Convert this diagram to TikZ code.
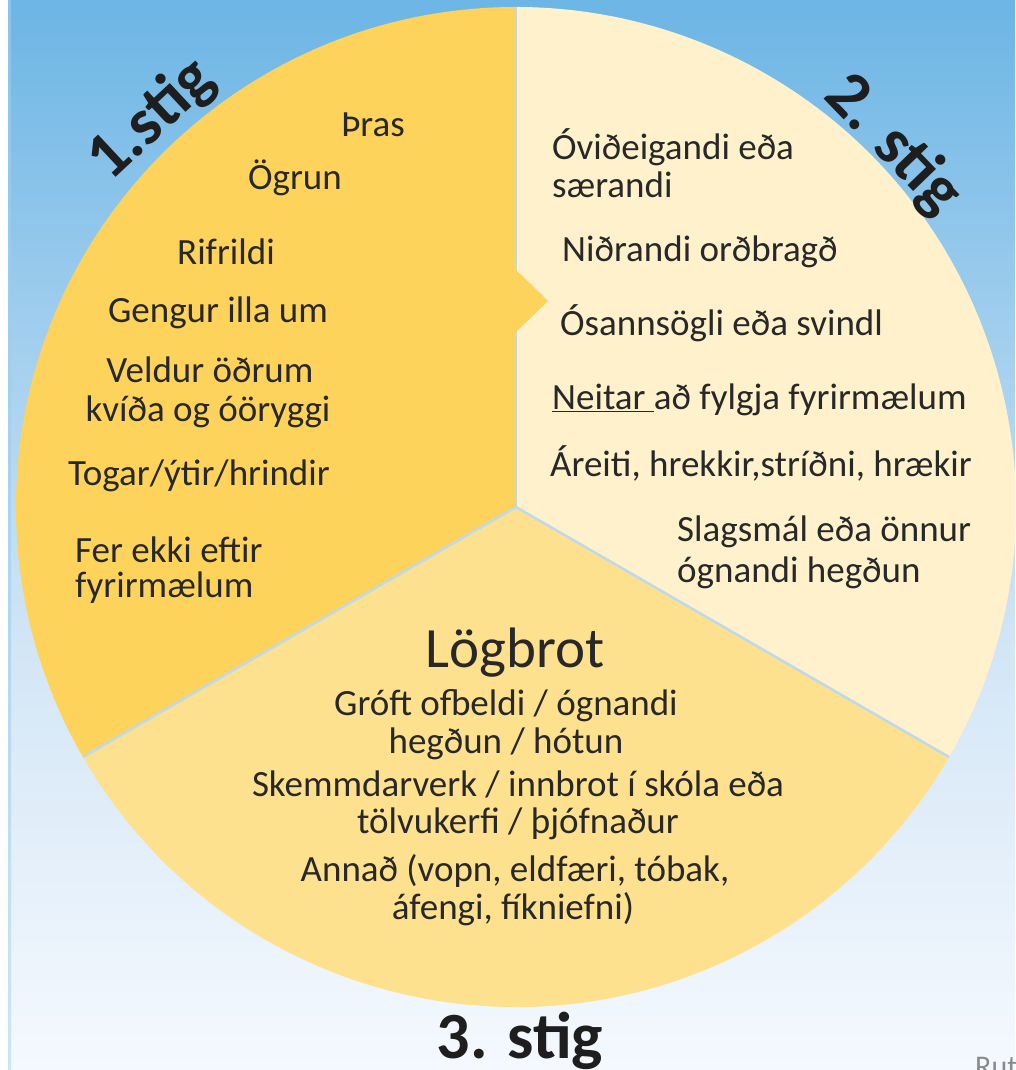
\documentclass[tikz,border=0pt]{standalone}
\usepackage{fontspec}
\setmainfont{Carlito}
\definecolor{bgtop}{HTML}{6CB5E5}
\definecolor{bgmid}{HTML}{D3E6F6}
\definecolor{bgbot}{HTML}{F5F9FE}
\definecolor{sectA}{HTML}{FDD35C}
\definecolor{sectB}{HTML}{FEF1CC}
\definecolor{sectC}{HTML}{FEE18E}
\definecolor{divc}{HTML}{BFD9EC}
\definecolor{txtc}{HTML}{282828}
\definecolor{stagec}{HTML}{1E1E1E}
\definecolor{signc}{HTML}{8A8A8A}
\tikzset{
  txt/.style={font=\fontsize{37}{40}\selectfont, text=txtc, inner sep=0pt},
  bigtxt/.style={font=\fontsize{57}{60}\selectfont, text=txtc, inner sep=0pt},
  stagelbl/.style={font=\fontsize{66}{70}\selectfont\bfseries, text=stagec, inner sep=0pt},
  divider/.style={draw=divc, line width=2.5pt},
}
\begin{document}
\begin{tikzpicture}[x=1pt,y=1pt]
\useasboundingbox (0,0) rectangle (1015,1070);
\clip (0,0) rectangle (1015,1070);
% background
\fill[white] (0,0) rectangle (1015,1070);
\shade[top color=bgtop, bottom color=bgmid] (8,420) rectangle (1015,1070);
\shade[top color=bgmid, bottom color=bgbot] (8,0) rectangle (1015,420);
\shade[top color=bgtop!80!white, bottom color=bgtop!35!white] (8,0) rectangle (11,1070);
% pie
\coordinate (C) at (516,563);
\coordinate (T) at (516,1063);
\coordinate (L) at (83,313);
\coordinate (R) at (949,313);
\fill[sectA] (C) -- (T) arc[start angle=90, end angle=210, radius=500] -- cycle;
\fill[sectB] (C) -- (R) arc[start angle=-30, end angle=90, radius=500] -- cycle;
\fill[sectC] (C) -- (L) arc[start angle=210, end angle=330, radius=500] -- cycle;
\draw[divider] (C) -- (T);
\draw[divider] (C) -- (L);
\draw[divider] (C) -- (R);
% chevron
\coordinate (ch1) at (514,802);
\coordinate (ch2) at (548,769);
\coordinate (ch3) at (514,736);
\fill[sectA] (ch1) -- (ch2) -- (ch3) -- cycle;
% stage labels
\node[stagelbl, rotate=43] (s1) at (152,950) {1.stig};
\node[stagelbl, rotate=-46] (s2) at (893,925) {2. stig};
\node[stagelbl, anchor=base] (s3) at (520,12) {3. stig};
% sector 1
\node[txt, anchor=base] (a1) at (373,933) {Þras};
\node[txt, anchor=base] (a2) at (295,880) {Ögrun};
\node[txt, anchor=base] (a3) at (226,805) {Rifrildi};
\node[txt, anchor=base] (a4) at (218,747) {Gengur illa um};
\node[txt, anchor=base] (a5) at (210,687) {Veldur öðrum};
\node[txt, anchor=base] (a6) at (208,648) {kvíða og óöryggi};
\node[txt, anchor=base] (a7) at (199,584) {Togar/ýtir/hrindir};
\node[txt, anchor=base west] (a8) at (75,507) {Fer ekki eftir};
\node[txt, anchor=base west] (a9) at (75,472) {fyrirmælum};
% sector 2
\node[txt, anchor=base west] (b1) at (552,910) {Óviðeigandi eða};
\node[txt, anchor=base west] (b2) at (552,872) {særandi};
\node[txt, anchor=base west] (b3) at (562,808) {Niðrandi orðbragð};
\node[txt, anchor=base west] (b4) at (560,734) {Ósannsögli eða svindl};
\node[txt, anchor=base west] (b5) at (552,660) {\underline{Neitar\ }að fylgja fyrirmælum};
\node[txt, anchor=base west] (b6) at (550,593) {Áreiti, hrekkir,stríðni, hrækir};
\node[txt, anchor=base west] (b7) at (677,528) {Slagsmál eða önnur};
\node[txt, anchor=base west] (b8) at (677,487) {ógnandi hegðun};
% sector 3
\node[bigtxt, anchor=base] (c0) at (515,402) {Lögbrot};
\node[txt, anchor=base] (c1) at (506,354) {Gróft ofbeldi / ógnandi};
\node[txt, anchor=base] (c2) at (506,316) {hegðun / hótun};
\node[txt, anchor=base] (c3) at (518,273) {Skemmdarverk / innbrot í skóla eða};
\node[txt, anchor=base] (c4) at (518,236) {tölvukerfi / þjófnaður};
\node[txt, anchor=base] (c5) at (515,188) {Annað (vopn, eldfæri, tóbak,};
\node[txt, anchor=base] (c6) at (513,150) {áfengi, fíkniefni)};
% signature
\node[font=\fontsize{30}{32}\selectfont, text=signc, anchor=base west, inner sep=0pt] (sig) at (975,-6) {Rut};
\end{tikzpicture}
\end{document}
